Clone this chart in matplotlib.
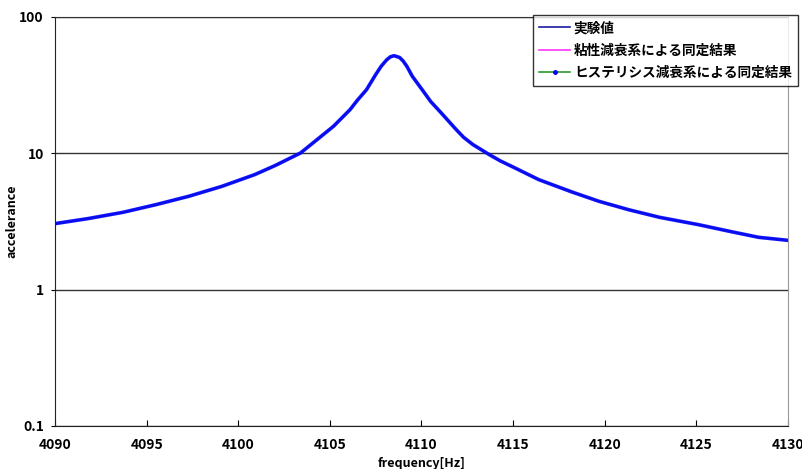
import matplotlib
matplotlib.use("Agg")
from matplotlib import pyplot as plt
from matplotlib.lines import Line2D

plt.rcParams['font.family'] = ['Noto Sans CJK JP', 'DejaVu Sans']

# 読み取った値 (frequency [Hz], accelerance)
freq = [4090.0, 4091.8, 4093.7, 4095.5, 4097.3, 4099.1, 4100.9, 4102.0, 4103.4,
        4104.3, 4105.2, 4106.1, 4106.5, 4107.0, 4107.5, 4107.8, 4108.1, 4108.3,
        4108.5, 4108.8, 4109.0, 4109.2, 4109.5, 4110.1, 4110.5, 4111.0, 4111.9,
        4112.3, 4112.8, 4113.7, 4114.3, 4115.1, 4116.4, 4118.2, 4119.7, 4121.3,
        4123.0, 4125.1, 4126.8, 4128.4, 4130.0]
accel_exp = [3.05, 3.32, 3.69, 4.20, 4.84, 5.72, 6.98, 8.12, 10.06,
             12.6, 15.8, 20.9, 24.5, 29.3, 37.8, 43.5, 48.5, 51.0,
             52.0, 50.5, 47.5, 43.5, 36.7, 28.5, 24.0, 20.3, 14.9,
             13.1, 11.6, 9.78, 8.8, 7.81, 6.41, 5.21, 4.44, 3.86,
             3.39, 3.00, 2.68, 2.42, 2.30]
# 同定結果は実験値とほぼ重なっている
accel_visc = list(accel_exp)
accel_hyst = list(accel_exp)

labels = ['実験値', '粘性減衰系による同定結果', 'ヒステリシス減衰系による同定結果']

fig = plt.figure(figsize=(8.03, 4.69), dpi=100)
ax = fig.add_axes([0.0685, 0.0917, 0.9128, 0.8721])

ax.plot(freq, accel_exp, color='#1a1aa0', lw=1.2)
ax.plot(freq, accel_visc, color='#ff33ff', lw=1.2)
ax.plot(freq, accel_hyst, color='#2a9a2a', lw=1.2)
ax.plot(freq, accel_hyst, color='#0000ff', lw=2.6, alpha=0.9)

ax.set_yscale('log')
ax.set_xlim(4090, 4130)
ax.set_ylim(0.1, 100)
ax.set_xticks(range(4090, 4131, 5))
ax.set_yticks([0.1, 1, 10, 100])
ax.set_yticklabels(['0.1', '1', '10', '100'])
ax.minorticks_off()
ax.grid(axis='y', color='#333333', lw=1)
ax.set_axisbelow(True)

ax.tick_params(axis='x', direction='in', length=4, pad=9, labelsize=10)
ax.tick_params(axis='y', direction='out', length=3, pad=5, labelsize=10)
for lab in ax.get_xticklabels() + ax.get_yticklabels():
    lab.set_fontweight('bold')

ax.spines['left'].set_color('#222222')
ax.spines['bottom'].set_color('#222222')
ax.spines['right'].set_color('#999999')
ax.spines['top'].set_color('#333333')

ax.set_xlabel('frequency[Hz]', fontsize=9, fontweight='bold')
ax.set_ylabel('accelerance', fontsize=9, fontweight='bold')
ax.xaxis.set_label_coords(0.5, -0.076)
ax.yaxis.set_label_coords(-0.05, 0.5)

handles = [
    Line2D([], [], color='#1a1aa0', lw=1.2),
    Line2D([], [], color='#ff33ff', lw=1.2),
    Line2D([], [], color='#2a9a2a', lw=1.2, marker='o', markersize=2.5,
           markerfacecolor='#0000ff', markeredgecolor='#0000ff'),
]
leg = fig.legend(handles, labels, loc='upper left',
                 bbox_to_anchor=(533 / 803, 1 - 15 / 469),
                 prop={'size': 9.8, 'weight': 'bold'},
                 frameon=True, fancybox=False, handlelength=2.3,
                 borderpad=0.45, labelspacing=0.6, handletextpad=0.25,
                 borderaxespad=0)
leg.get_frame().set_edgecolor('black')
leg.get_frame().set_linewidth(1)

fig.savefig('out.png', dpi=100)
